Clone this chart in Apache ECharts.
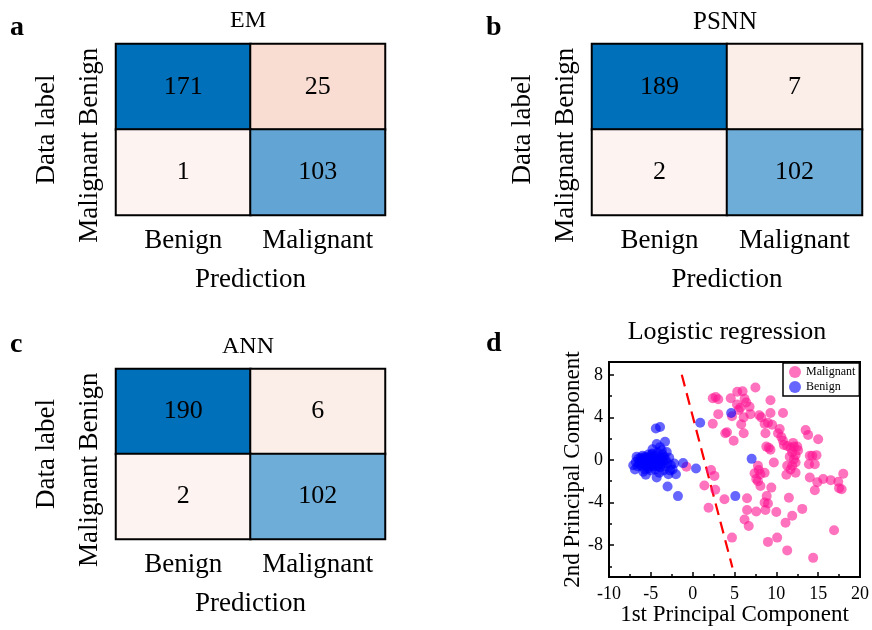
<!DOCTYPE html>
<html>
<head>
<meta charset="utf-8">
<script src="https://cdn.jsdelivr.net/npm/echarts@6/dist/echarts.min.js"></script>
<style>
  html, body { margin: 0; padding: 0; background: #fff; }
  #chart { width: 872px; height: 630px; }
</style>
</head>
<body>
<div id="chart"></div>
<script>
// confusion matrices: rows = data label, cols = prediction
const classLabels = ['Benign', 'Malignant'];
const emMatrix = [[171, 25], [1, 103]];
const psnnMatrix = [[189, 7], [2, 102]];
const annMatrix = [[190, 6], [2, 102]];

// logistic regression, PCA projection
const xTicks = [-10, -5, 0, 5, 10, 15, 20];
const yTicks = [-8, -4, 0, 4, 8];
const yMinorTicks = [-10, -6, -2, 2, 6];
const boundaryLine = [[-1.3, 8.0], [4.75, -10.1]];

const malignantPts = [
  [2.4, 5.8], [2.75, 5.9], [3.06, 5.7], [4.55, 5.8], [5.33, 6.4], [5.96, 6.45], [7.5, 6.8],
  [6.2, 5.75], [5.7, 4.9], [5.5, 4.7], [6.8, 5.0], [6.1, 4.0], [6.9, 4.3], [4.7, 4.1],
  [3.06, 4.3], [2.4, 3.4], [5.8, 3.35], [6.1, 2.5], [3.9, 2.5], [4.1, 2.6], [4.9, 1.8],
  [7.96, 4.2], [8.2, 4.0], [9.3, 5.6], [9.3, 4.4], [10.8, 4.4], [8.6, 3.4], [9.0, 3.5],
  [9.5, 3.3], [8.7, 2.5], [10.2, 2.5], [10.4, 2.9], [10.6, 2.15], [10.8, 1.8], [10.9, 1.4],
  [8.8, 1.25], [9.1, 1.15], [9.3, 0.95], [9.7, -0.25], [11.3, 1.3], [11.7, 1.15], [12.1, 1.25],
  [12.5, 1.25], [11.9, 0.7], [12.3, 0.45], [12.1, 0.05], [11.3, -0.55], [11.9, -0.55],
  [12.3, -0.25], [12.3, -1.2], [11.7, -0.9], [11.2, -1.4], [13.5, 2.8], [13.8, 2.35],
  [15.0, 1.95], [14.0, 0.4], [14.3, 0.4], [14.8, 0.45], [13.9, -0.4], [14.6, -0.4],
  [14.0, -1.65], [14.9, -2.1], [15.6, -1.8], [16.5, -1.9], [17.4, -2.05], [18.0, -1.3],
  [17.5, -2.65], [17.8, -2.75], [14.6, -2.85], [7.8, -0.55], [7.9, -0.95], [7.4, -1.25],
  [8.1, -1.35], [7.8, -2.0], [7.6, -1.8], [8.1, -2.45], [9.4, -2.6], [8.6, -1.2],
  [8.85, -3.4], [8.6, -4.0], [9.0, -4.1], [8.7, -4.7], [6.5, -3.6], [6.5, -4.7], [7.6, -4.85],
  [6.2, -5.6], [6.7, -6.2], [10.0, -4.9], [11.5, -3.55], [11.9, -5.25], [11.1, -5.9],
  [13.1, -4.6], [10.1, -7.3], [9.0, -7.7], [11.3, -8.5], [16.9, -6.6], [14.4, -9.2],
  [4.7, -7.3], [3.8, -3.7], [2.7, -2.8], [1.9, -4.5], [1.4, -2.4], [2.2, -0.95], [2.6, -1.5],
  [-0.75, -0.65], [5.3, 5.2], [6.4, 5.4], [12.0, 1.6], [12.6, 0.9], [11.6, 0.3]
];

const benignPts = [
  [-6.9, -0.9], [-6.8, -0.2], [-6.6, -0.6], [-6.5, 0.1], [-6.4, -0.4], [-6.3, -0.1], [-6.2, 0.2],
  [-6.1, -0.6], [-6.0, -0.2], [-5.9, 0.1], [-5.8, -0.5], [-5.7, 0.3], [-5.7, -0.9], [-5.6, -0.1],
  [-5.6, -1.4], [-5.5, 0.2], [-5.5, -0.6], [-5.4, -0.3], [-5.3, 0.5], [-5.3, -0.8], [-5.2, 0.0],
  [-5.1, -0.4], [-5.0, 0.3], [-5.0, -1.0], [-4.9, -0.2], [-4.8, 1.0], [-4.8, 0.6], [-4.7, -0.6],
  [-4.7, 0.1], [-4.6, -0.3], [-4.5, 0.4], [-4.5, -0.9], [-4.4, 2.95], [-4.4, 0.0], [-4.3, 1.5],
  [-4.3, -1.66], [-4.3, -0.5], [-4.2, 0.7], [-4.1, -0.2], [-4.0, 0.3], [-3.9, 3.1], [-3.9, -0.7],
  [-3.8, 0.1], [-3.7, 0.9], [-3.7, -0.4], [-3.6, 0.5], [-3.5, -0.1], [-3.5, -1.0], [-3.4, 0.3],
  [-3.3, 1.7], [-3.3, -0.6], [-3.2, 0.0], [-3.1, 0.75], [-3.0, -0.3], [-3.0, -2.5], [-2.9, -1.35],
  [-2.8, 0.2], [-2.6, -0.5], [-2.4, -0.9], [-2.2, -0.34], [-2.0, -1.35], [-1.76, -3.4],
  [-1.14, -0.3], [0.4, -0.8], [0.9, 3.5], [4.6, 4.4], [7.05, 0.1], [5.1, -3.4],
  [-6.2, -0.3], [-5.8, 0.0], [-5.4, 0.1], [-5.0, -0.5], [-4.6, 0.2], [-4.2, -0.6], [-3.8, -0.2],
  [-5.2, -0.6], [-4.4, -0.3], [-3.6, 0.2], [-6.0, 0.4], [-4.9, 0.5], [-7.1, -0.5], [-6.7, 0.3],
  [-4.0, -1.2], [-2.7, -1.0], [-3.9, 1.2], [-5.9, -1.1]
];

const serif = 'Liberation Serif';
const chart = echarts.init(document.getElementById('chart'));

const matrices = [emMatrix, psnnMatrix, annMatrix];
const hmGrids = [
  { left: 116, top: 44, width: 269, height: 171 },
  { left: 592, top: 44, width: 270, height: 171 },
  { left: 116, top: 369, width: 269, height: 170 }
];

const grids = hmGrids.slice();
grids.push({ left: 609, top: 362, width: 254, height: 215, show: true, borderColor: '#000', borderWidth: 2, backgroundColor: 'transparent' });

const xAxes = [];
const yAxes = [];
const series = [];
matrices.forEach((m, i) => {
  xAxes.push({
    gridIndex: i, type: 'category', data: classLabels,
    axisLine: { show: false }, axisTick: { show: false }, splitLine: { show: false },
    axisLabel: { fontFamily: serif, fontSize: 27, color: '#000', margin: 12, interval: 0 },
    name: 'Prediction', nameLocation: 'middle', nameGap: 51,
    nameTextStyle: { fontFamily: serif, fontSize: 27, color: '#000' }
  });
  yAxes.push({
    gridIndex: i, type: 'category', data: classLabels, inverse: true,
    axisLine: { show: false }, axisTick: { show: false }, splitLine: { show: false },
    axisLabel: {
      fontFamily: serif, fontSize: 27, color: '#000', rotate: 90, margin: 13, interval: 0,
      width: 200, overflow: 'none', hideOverlap: false,
      formatter: v => v === 'Malignant' ? '{m|' + v + '}' : v,
      rich: { m: { fontFamily: serif, fontSize: 27, color: '#000', padding: [0, 30, 0, 0] } }
    },
    name: 'Data label', nameLocation: 'middle', nameGap: 56, nameRotate: 90,
    nameTextStyle: { fontFamily: serif, fontSize: 27, color: '#000' }
  });
  const data = [];
  m.forEach((row, r) => row.forEach((v, c) => data.push([c, r, v])));
  series.push({
    type: 'heatmap', xAxisIndex: i, yAxisIndex: i, data: data,
    itemStyle: { borderColor: '#000', borderWidth: 2 },
    label: { show: true, fontFamily: serif, fontSize: 26, color: '#000' },
    emphasis: { disabled: true }
  });
});

// scatter panel axes
const axisText = { fontFamily: serif, fontSize: 18, color: '#000' };
xAxes.push({
  gridIndex: 3, type: 'value', min: -10, max: 20, interval: 5,
  axisLine: { onZero: false, lineStyle: { color: '#000', width: 2 } },
  axisTick: { inside: true, length: 5, lineStyle: { color: '#000', width: 1.5 } },
  minorTick: { show: true, splitNumber: 2, length: 3, lineStyle: { color: '#000', width: 1.5 } },
  splitLine: { show: false },
  axisLabel: Object.assign({ margin: 8, customValues: xTicks }, axisText),
  name: '1st Principal Component', nameLocation: 'middle', nameGap: 26,
  nameTextStyle: { fontFamily: serif, fontSize: 23, color: '#000' }
});
yAxes.push({
  gridIndex: 3, type: 'value', min: -11, max: 9.2,
  axisLine: { onZero: false, lineStyle: { color: '#000', width: 2 } },
  axisTick: { inside: true, length: 5, customValues: yTicks, lineStyle: { color: '#000', width: 1.5 } },
  splitLine: { show: false },
  axisLabel: Object.assign({ margin: 6, customValues: yTicks }, axisText),
  name: '2nd Principal Component', nameLocation: 'middle', nameGap: 22,
  nameTextStyle: { fontFamily: serif, fontSize: 23, color: '#000' }
});
// minor ticks on y
yAxes.push({
  gridIndex: 3, type: 'value', min: -11, max: 9.2, position: 'left',
  axisLine: { show: false, onZero: false },
  axisTick: { inside: true, length: 3, customValues: yMinorTicks, lineStyle: { color: '#000', width: 1.5 } },
  axisLabel: { show: false }, splitLine: { show: false }
});

series.push({
  type: 'line', xAxisIndex: 3, yAxisIndex: 3, data: boundaryLine, symbol: 'none',
  lineStyle: { color: '#ff0000', width: 2.2, type: [12, 7] }, silent: true, z: 1
});
series.push({
  name: 'Malignant', type: 'scatter', xAxisIndex: 3, yAxisIndex: 3, data: malignantPts,
  symbolSize: 10, itemStyle: { color: '#ff1493', opacity: 0.6 }, z: 2
});
series.push({
  name: 'Benign', type: 'scatter', xAxisIndex: 3, yAxisIndex: 3, data: benignPts,
  symbolSize: 10, itemStyle: { color: '#0000ff', opacity: 0.6 }, z: 3
});

const titleStyle = { fontFamily: serif, fontSize: 24, fontWeight: 'normal', color: '#000' };
const letterStyle = { fontFamily: serif, fontSize: 28, fontWeight: 'bold', color: '#000' };

const option = {
  animation: false,
  backgroundColor: '#fff',
  title: [
    { text: 'EM', left: 248, top: 9, textAlign: 'center', textStyle: titleStyle, padding: 0 },
    { text: 'PSNN', left: 725, top: 10, textAlign: 'center', textStyle: Object.assign({}, titleStyle, { fontSize: 25 }), padding: 0 },
    { text: 'ANN', left: 248, top: 335, textAlign: 'center', textStyle: titleStyle, padding: 0 },
    { text: 'Logistic regression', left: 727, top: 319, textAlign: 'center', textStyle: Object.assign({}, titleStyle, { fontSize: 26 }), padding: 0 },
    { text: 'a', left: 10, top: 14, textStyle: letterStyle, padding: 0 },
    { text: 'b', left: 486, top: 14, textStyle: letterStyle, padding: 0 },
    { text: 'c', left: 10, top: 331, textStyle: letterStyle, padding: 0 },
    { text: 'd', left: 486, top: 330, textStyle: letterStyle, padding: 0 }
  ],
  grid: grids,
  xAxis: xAxes,
  yAxis: yAxes,
  visualMap: {
    type: 'piecewise', show: false, seriesIndex: [0, 1, 2], dimension: 2,
    pieces: [
      { lte: 3, color: '#fdf3f1' },
      { gt: 3, lte: 10, color: '#fbeee8' },
      { gt: 10, lte: 50, color: '#f9ddd2' },
      { gt: 50, lte: 102.5, color: '#6fadd9' },
      { gt: 102.5, lte: 150, color: '#62a5d5' },
      { gt: 150, color: '#0070bb' }
    ]
  },
  legend: {
    data: ['Malignant', 'Benign'], orient: 'vertical', left: 783, top: 363,
    itemWidth: 12, itemHeight: 12, itemGap: 3, padding: [3, 4, 3, 6],
    borderColor: '#000', borderWidth: 1.5, backgroundColor: '#fff',
    textStyle: { fontFamily: serif, fontSize: 12, color: '#000' },
    icon: 'circle'
  },
  series: series
};
chart.setOption(option);
</script>
</body>
</html>
